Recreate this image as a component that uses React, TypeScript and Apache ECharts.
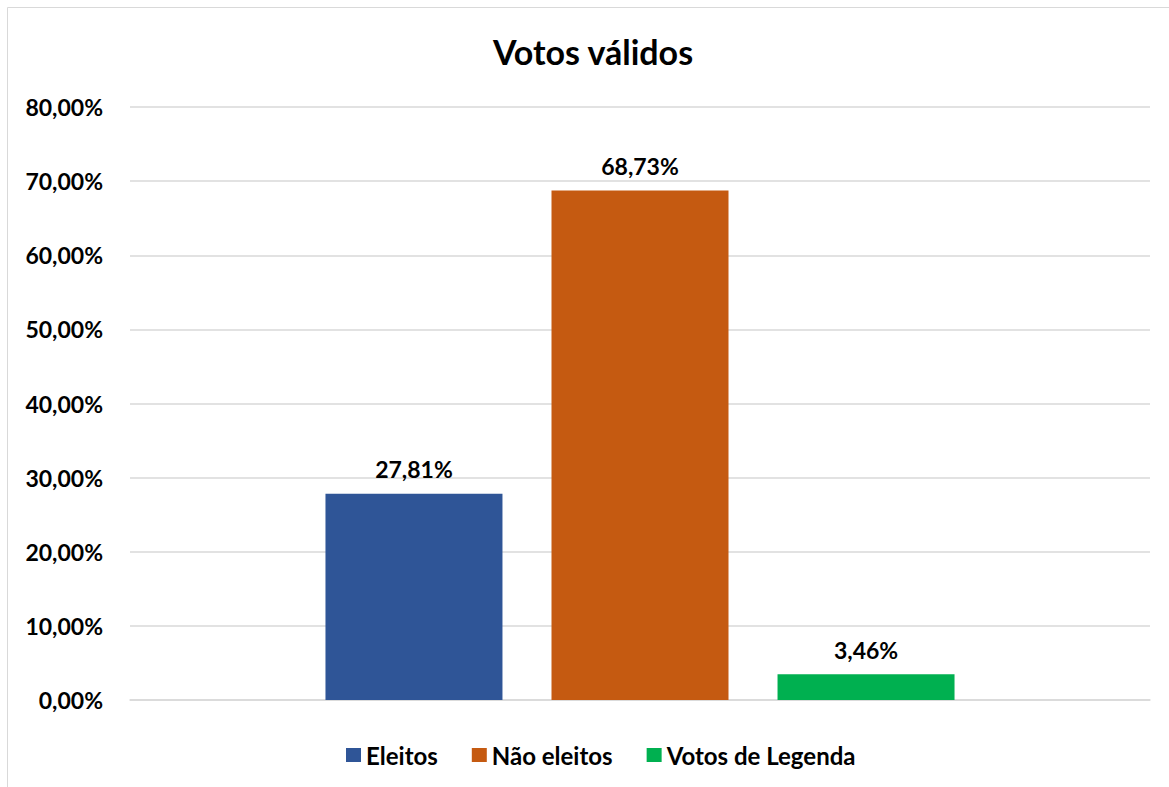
import React, { useEffect, useRef } from "react";
import * as echarts from "echarts";

const seriesNames = ["Eleitos", "Não eleitos", "Votos de Legenda"];
const seriesValues = [27.81, 68.73, 3.46];
const seriesColors = ["#2F5597", "#C55A11", "#00B050"];
const categories = [""];
const titleText = "Votos válidos";

const FONT = "Lato, 'Open Sans', sans-serif";
const fmt = (v: number) => v.toFixed(2).replace(".", ",") + "%";

export default function App() {
  const ref = useRef<HTMLDivElement>(null);
  useEffect(() => {
    const chart = echarts.init(ref.current!, undefined, { renderer: "svg" });
    chart.setOption({
      animation: false,
      backgroundColor: "#ffffff",
      textStyle: { fontFamily: FONT },
      graphic: [
        {
          type: "rect",
          shape: { x: 7.5, y: 7.5, width: 1200, height: 900 },
          style: { fill: "none", stroke: "#d9d9d9", lineWidth: 1 },
          silent: true,
        },
        {
          type: "text",
          x: 593,
          y: 51,
          style: {
            text: titleText,
            fontFamily: FONT,
            fontWeight: "bold",
            fontSize: 34,
            fill: "#000000",
            textAlign: "center",
            textVerticalAlign: "middle",
          },
        },
      ],
      legend: {
        left: 341,
        top: 738,
        itemWidth: 15,
        itemHeight: 14,
        itemGap: 34,
        icon: "rect",
        textStyle: { fontFamily: FONT, fontWeight: "bold", fontSize: 24, color: "#000" },
        data: seriesNames,
      },
      grid: { left: 130, right: 19, top: 107, bottom: 87, containLabel: false },
      xAxis: {
        type: "category",
        data: categories,
        axisLine: { lineStyle: { color: "#d9d9d9", width: 1.5 } },
        axisTick: { show: false },
        axisLabel: { show: false },
      },
      yAxis: {
        type: "value",
        min: 0,
        max: 80,
        interval: 10,
        axisLine: { show: false },
        axisTick: { show: false },
        splitLine: { lineStyle: { color: "#d9d9d9", width: 1.5 } },
        axisLabel: {
          formatter: (v: number) => fmt(v),
          fontFamily: FONT,
          fontWeight: "bold",
          fontSize: 23,
          color: "#000",
          margin: 27,
        },
      },
      series: seriesNames.map((name, i) => ({
        name,
        type: "bar",
        data: [seriesValues[i]],
        barWidth: 177,
        barGap: "27.7%",
        itemStyle: { color: seriesColors[i] },
        label: {
          show: true,
          position: "top",
          distance: 13,
          formatter: (p: any) => fmt(p.value),
          fontFamily: FONT,
          fontWeight: "bold",
          fontSize: 23,
          color: "#000",
        },
      })),
    });
    return () => chart.dispose();
  }, []);
  return (
    <div
      ref={ref}
      style={{ position: "absolute", left: 0, top: 0, width: 1169, height: 787 }}
    />
  );
}
